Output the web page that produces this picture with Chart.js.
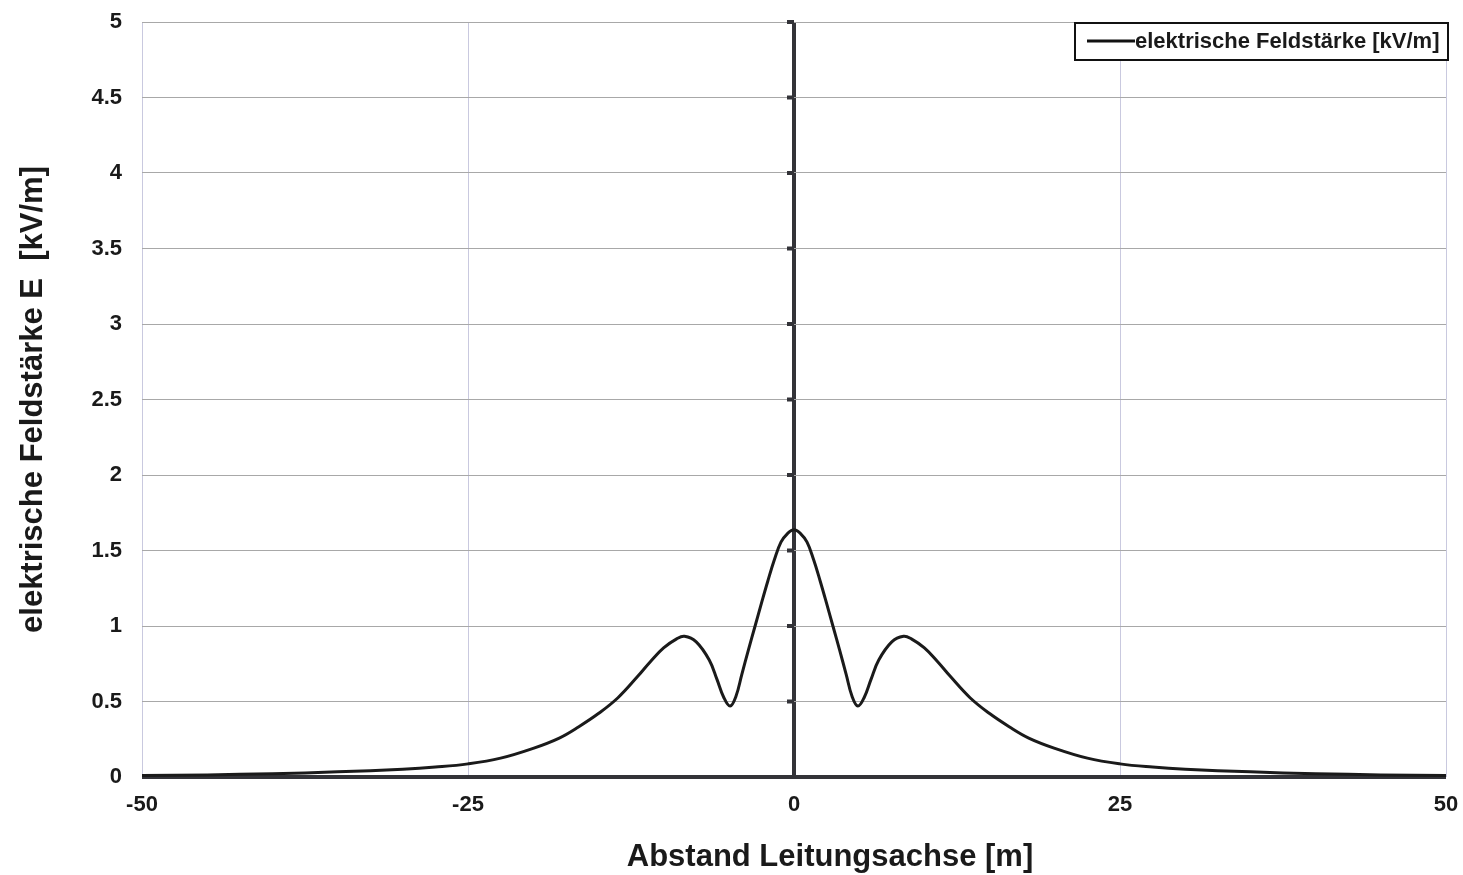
<!DOCTYPE html>
<html>
<head>
<meta charset="utf-8">
<script src="https://cdn.jsdelivr.net/npm/chart.js@4"></script>
<style>
  html, body { margin: 0; padding: 0; background: #fff; }
  #wrap { width: 1463px; height: 875px; }
</style>
</head>
<body>
<div id="wrap"><canvas id="chart"></canvas></div>
<script>
// distance from line axis [m]
const distances = [
  -50, -45, -40, -35, -30, -27.5, -25, -22.5, -20, -18, -16.5, -15, -13.5, -12, -11, -10,
  -9, -8.4, -7.5, -6.5, -5.9, -5.4, -4.9, -4.45, -4, -3.5, -3, -2.5, -2, -1.5, -1, -0.5, 0,
  0.5, 1, 1.5, 2, 2.5, 3, 3.5, 4, 4.45, 4.9, 5.4, 5.9, 6.5, 7.5, 8.4, 9,
  10, 11, 12, 13.5, 15, 16.5, 18, 20, 22.5, 25, 27.5, 30, 35, 40, 45, 50,
];
// field strength [kV/m]
const fieldStrength = [
  0.010, 0.014, 0.022, 0.034, 0.052, 0.066, 0.087, 0.125, 0.19, 0.258, 0.333, 0.42, 0.525, 0.665, 0.765, 0.855,
  0.915, 0.932, 0.895, 0.775, 0.645, 0.53, 0.47, 0.535, 0.68, 0.84, 0.995, 1.15, 1.30, 1.44, 1.555, 1.612, 1.637,
  1.612, 1.555, 1.44, 1.30, 1.15, 0.995, 0.84, 0.68, 0.535, 0.47, 0.53, 0.645, 0.775, 0.895, 0.932, 0.915,
  0.855, 0.765, 0.665, 0.525, 0.42, 0.333, 0.258, 0.19, 0.125, 0.087, 0.066, 0.052, 0.034, 0.022, 0.014, 0.010,
];
const xTicks = [-50, -25, 0, 25, 50];
const yTicks = [0, 0.5, 1, 1.5, 2, 2.5, 3, 3.5, 4, 4.5, 5];

const seriesLabel = 'elektrische Feldstärke [kV/m]';
const xTitle = 'Abstand Leitungsachse [m]';
const yTitle = 'elektrische Feldstärke E  [kV/m]';

const FONT = "'Liberation Sans', Arial, sans-serif";
const AXIS_DARK = '#333338';
const TEXT = '#1a1a1a';

// small tick marks on the zero axis + legend box + x title
const extras = {
  id: 'extras',
  afterDatasetsDraw(chart) {
    const { ctx, scales: { x, y } } = chart;
    const x0 = x.getPixelForValue(0);
    ctx.save();
    ctx.fillStyle = AXIS_DARK;
    yTicks.forEach((v) => {
      const py = y.getPixelForValue(v);
      ctx.fillRect(x0 - 7, py - 2, 7, 4);
    });
    ctx.restore();
  },
  afterDraw(chart) {
    const { ctx } = chart;
    ctx.save();
    // legend
    ctx.fillStyle = '#fff';
    ctx.fillRect(1075, 23, 373, 37);
    ctx.strokeStyle = '#111';
    ctx.lineWidth = 2;
    ctx.strokeRect(1075, 23, 373, 37);
    ctx.beginPath();
    ctx.moveTo(1087, 41);
    ctx.lineTo(1135, 41);
    ctx.lineWidth = 3;
    ctx.stroke();
    ctx.fillStyle = TEXT;
    ctx.font = `bold 22px ${FONT}`;
    ctx.textBaseline = 'middle';
    ctx.textAlign = 'left';
    ctx.fillText(seriesLabel, 1135, 42);
    // x axis title
    ctx.font = `bold 31px ${FONT}`;
    ctx.textAlign = 'center';
    ctx.fillText(xTitle, 830, 857);
    ctx.restore();
  },
};

const isZero = (c) => c.tick && c.tick.value === 0;

// eslint-disable-next-line no-undef
new Chart(document.getElementById('chart'), {
  type: 'scatter',
  data: {
    datasets: [{
      label: seriesLabel,
      data: distances.map((d, i) => ({ x: d, y: fieldStrength[i] })),
      showLine: true,
      borderColor: '#1a1a1a',
      borderWidth: 3,
      pointRadius: 0,
      tension: 0.4,
    }],
  },
  options: {
    responsive: true,
    maintainAspectRatio: false,
    animation: false,
    layout: { padding: { top: 22, right: 17, left: 0, bottom: 0 } },
    plugins: { legend: { display: false }, tooltip: { enabled: false } },
    scales: {
      x: {
        type: 'linear',
        min: -50,
        max: 50,
        afterBuildTicks: (scale) => { scale.ticks = xTicks.map((v) => ({ value: v })); },
        afterFit: (scale) => {
          // eslint-disable-next-line no-param-reassign
          scale.height = 98;
          scale.paddingLeft = 0;
          scale.paddingRight = 0;
        },
        border: { display: false },
        grid: {
          drawTicks: false,
          color: (c) => (isZero(c) ? AXIS_DARK : '#c9c9df'),
          lineWidth: (c) => (isZero(c) ? 4 : 1),
        },
        ticks: {
          padding: 15,
          color: TEXT,
          callback: (v) => String(v),
          font: { family: FONT, size: 22, weight: 'bold' },
        },
      },
      y: {
        min: 0,
        max: 5,
        afterBuildTicks: (scale) => { scale.ticks = yTicks.map((v) => ({ value: v })); },
        afterFit: (scale) => {
          // eslint-disable-next-line no-param-reassign
          scale.width = 142;
          scale.paddingTop = 0;
          scale.paddingBottom = 0;
        },
        border: { display: false },
        grid: {
          drawTicks: false,
          color: (c) => (isZero(c) ? AXIS_DARK : '#a8a8a8'),
          lineWidth: (c) => (isZero(c) ? 4 : 1),
        },
        ticks: {
          padding: 20,
          color: TEXT,
          callback: (v) => String(v),
          font: { family: FONT, size: 22, weight: 'bold' },
        },
        title: {
          display: true,
          text: yTitle,
          color: TEXT,
          font: { family: FONT, size: 31, weight: 'bold' },
          padding: { top: 15, bottom: 0 },
        },
      },
    },
  },
  plugins: [extras],
});
</script>
</body>
</html>
